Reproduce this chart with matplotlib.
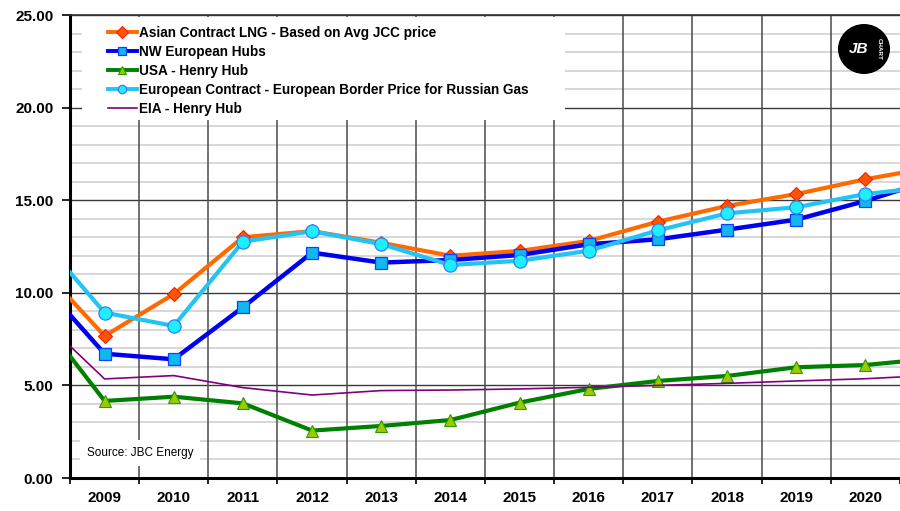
import matplotlib
matplotlib.use("Agg")
import matplotlib.pyplot as plt
from matplotlib.patches import Ellipse, Rectangle

plt.rcParams['font.family'] = ['Liberation Sans', 'DejaVu Sans']

years = [2008, 2009, 2010, 2011, 2012, 2013, 2014, 2015, 2016, 2017, 2018, 2019, 2020, 2021]
year_labels = [str(y) for y in range(2009, 2021)]

asian_lng = [11.7, 7.67, 9.93, 13.0, 13.33, 12.7, 12.0, 12.26, 12.8, 13.84, 14.69, 15.33, 16.13, 16.8]
nw_hubs = [10.9, 6.71, 6.41, 9.22, 12.17, 11.63, 11.77, 12.04, 12.62, 12.89, 13.41, 13.95, 14.96, 16.14]
usa_hh = [9.0, 4.16, 4.39, 4.03, 2.56, 2.81, 3.13, 4.07, 4.81, 5.24, 5.51, 5.98, 6.1, 6.46]
eu_contract = [13.27, 8.93, 8.21, 12.76, 13.32, 12.63, 11.5, 11.73, 12.27, 13.37, 14.29, 14.62, 15.33, 15.75]
eia_hh = [8.9, 5.35, 5.53, 4.88, 4.48, 4.72, 4.75, 4.81, 4.9, 5.0, 5.11, 5.24, 5.36, 5.55]

labels = ["Asian Contract LNG - Based on Avg JCC price",
          "NW European Hubs",
          "USA - Henry Hub",
          "European Contract - European Border Price for Russian Gas",
          "EIA - Henry Hub"]

W, H = 900, 511
AX_L, AX_R, AX_T, AX_B = 70, 900, 15, 478
fig = plt.figure(figsize=(9, 5.11), dpi=100)
ax = fig.add_axes([AX_L/W, (H-AX_B)/H, (AX_R-AX_L)/W, (AX_B-AX_T)/H])

def ax_frac(px, py):
    return ((px - AX_L) / (AX_R - AX_L), (AX_B - py) / (AX_B - AX_T))

ax.set_xlim(2008.5, 2020.5)
ax.set_ylim(0, 25)

# gridlines
for v in range(0, 26):
    if v % 5 == 0:
        ax.axhline(v, color='#3a3a3a', lw=1.0, zorder=1)
    else:
        ax.axhline(v, color='#d4d4d4', lw=1.3, zorder=1)
for b in range(2009, 2021):
    ax.axvline(b - 0.5, color='#4a4a4a', lw=1.1, zorder=1)

ax.plot(years, asian_lng, color='#FF6A00', lw=3.0, marker='D', ms=7.5,
        mfc='#FF5500', mec='#FF1A00', mew=0.8, label=labels[0], zorder=3)
ax.plot(years, nw_hubs, color='#0000F0', lw=3.2, marker='s', ms=9,
        mfc='#11B8F0', mec='#1040FF', mew=0.9, label=labels[1], zorder=3)
ax.plot(years, usa_hh, color='#008000', lw=3.0, marker='^', ms=9,
        mfc='#99CC00', mec='#2E9A00', mew=0.8, label=labels[2], zorder=3)
ax.plot(years, eu_contract, color='#22C4F5', lw=3.0, marker='o', ms=9.5,
        mfc='#1EEEFF', mec='#3080F0', mew=0.9, label=labels[3], zorder=3)
ax.plot(years, eia_hh, color='#800080', lw=1.2, label=labels[4], zorder=3)

# ticks
ax.set_xticks(range(2009, 2021))
ax.set_xticklabels(year_labels, fontsize=11, fontweight='bold')
ax.set_xticks([y - 0.5 for y in range(2009, 2022)], minor=True)
ax.tick_params(axis='x', which='major', length=0, pad=9)
ax.tick_params(axis='x', which='minor', length=4, width=1.2, direction='out', color='black')
ax.set_yticks(range(0, 26, 5))
ax.set_yticklabels([f"{v:.2f}" for v in range(0, 26, 5)], fontsize=11, fontweight='bold')
ax.tick_params(axis='y', which='major', length=6, width=1.2, direction='out', pad=6)

for s in ['left', 'bottom']:
    ax.spines[s].set_linewidth(2.2)
    ax.spines[s].set_color('black')
ax.spines['top'].set_linewidth(1.2)
ax.spines['top'].set_color('#333333')
ax.spines['right'].set_visible(False)

# white legend background box
x0, y0 = ax_frac(82, 120)
x1, y1 = ax_frac(565, 17)
ax.add_patch(Rectangle((x0, y0), x1 - x0, y1 - y0, transform=ax.transAxes,
                       facecolor='white', edgecolor='none', zorder=4))

lx, ly = ax_frac(108, 26)
leg = ax.legend(loc='upper left', bbox_to_anchor=(lx, ly), frameon=False,
                prop={'family': 'Liberation Sans', 'weight': 'bold', 'size': 9.85},
                handlelength=2.1, handletextpad=0.15, labelspacing=0.37,
                borderpad=0.0, borderaxespad=0.0)
leg.set_zorder(5)
for h in leg.legend_handles:
    h.set_markersize(6)
    if h.get_linewidth() > 2:
        h.set_linewidth(2.8)

ax.text(0.02, 0.055, "Source: JBC Energy", transform=ax.transAxes, fontsize=8.5,
        ha='left', va='center', zorder=6,
        bbox=dict(facecolor='white', edgecolor='none', pad=5))

# logo approximation
cx, cy = 864, 49
logo = Ellipse((cx/W, 1 - cy/H), 52/W, 50/H, transform=fig.transFigure,
               facecolor='black', edgecolor='none', zorder=10)
fig.patches.append(logo)
fig.text((cx-5)/W, 1 - cy/H, "JB", color='white', fontsize=11, fontweight='bold',
         ha='center', va='center', style='italic', zorder=11)
fig.text((cx+15)/W, 1 - cy/H, "CHART", color='white', fontsize=4.5, fontweight='bold',
         ha='center', va='center', rotation=-90, zorder=11)

fig.savefig("out.png", dpi=100)
